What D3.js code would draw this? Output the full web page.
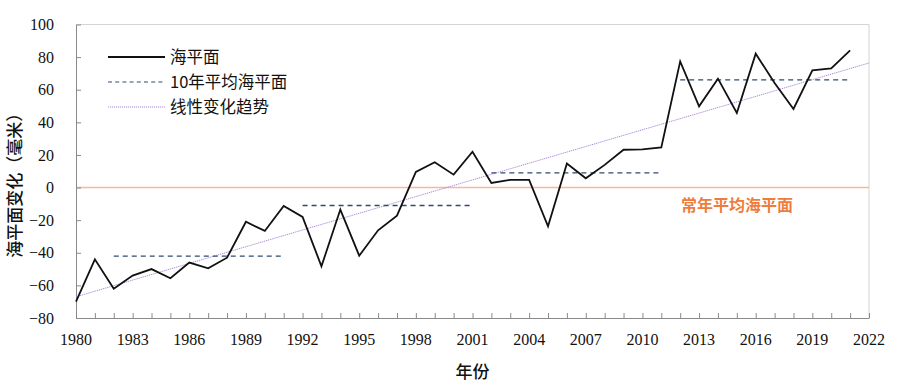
<!DOCTYPE html>
<html>
<head>
<meta charset="utf-8">
<script src="https://cdn.jsdelivr.net/npm/d3@7"></script>
<style>
  body { margin: 0; background: #fff; }
</style>
</head>
<body>
<div id="app"></div>
<script>
// sea level anomaly (mm), 1980-2021
const years = d3.range(1980, 2022);
const seaLevel = [-70, -44, -62, -54, -50, -55.6, -46, -49.5, -43, -21,
  -26.6, -11.3, -18, -48.3, -13.5, -41.8, -26.2, -17.2, 9.6, 15.5,
  7.9, 22, 2.8, 4.7, 4.7, -23.8, 14.7, 5.7, 13.9, 23.2,
  23.4, 24.6, 77.4, 49.8, 66.8, 45.7, 82.1, 64.1, 48.2, 71.9,
  73.1, 84.1];
// decade averages
const decadeStart = [1982, 1992, 2002, 2012];
const decadeEnd = [1991, 2001, 2011, 2021];
const decadeMean = [-42, -11, 9, 66];
// linear trend end points
const trendYears = [1980, 2022];
const trendValues = [-67, 76.4];
const xTicks = d3.range(1980, 2023, 3);
const yTicks = d3.range(-80, 101, 20);

const SERIF = '"Liberation Serif"';
const CJK = '"Noto Sans CJK SC"';

const width = 903, height = 390;
const margin = { top: 24.5, right: 34, bottom: 72, left: 76 };

const svg = d3.select('#app').append('svg')
  .attr('width', width).attr('height', height);

const x = d3.scaleLinear().domain([1980, 2022]).range([margin.left, width - margin.right]);
const y = d3.scaleLinear().domain([-80, 100]).range([height - margin.bottom, margin.top]);

// frame top / right
svg.append('path')
  .attr('d', `M${x(1980)},${y(100)}H${x(2022)}V${y(-80)}`)
  .attr('fill', 'none').attr('stroke', '#d4d4d4').attr('stroke-width', 1);

// zero line
svg.append('line')
  .attr('x1', x(1980)).attr('x2', x(2022))
  .attr('y1', y(0)).attr('y2', y(0))
  .attr('stroke', '#f5b89c').attr('stroke-width', 1.5);

// axes
const gx = svg.append('g')
  .attr('transform', `translate(0,${y(-80)})`)
  .call(d3.axisBottom(x).tickValues(d3.range(1980, 2023)).tickSizeInner(-5).tickSizeOuter(0).tickFormat(''));
gx.select('.domain').attr('stroke', '#8a8a8a');
gx.selectAll('.tick line').attr('stroke', '#8a8a8a');

svg.append('g').selectAll('text').data(xTicks).join('text')
  .attr('x', d => x(d)).attr('y', y(-80) + 27)
  .attr('text-anchor', 'middle')
  .style('font-family', SERIF).style('font-size', '16px')
  .attr('fill', '#111')
  .text(d => d);

const gy = svg.append('g')
  .attr('transform', `translate(${x(1980)},0)`)
  .call(d3.axisLeft(y).tickValues(yTicks).tickSizeInner(-5).tickSizeOuter(0).tickPadding(22));
gy.select('.domain').attr('stroke', '#8a8a8a');
gy.selectAll('.tick line').attr('stroke', '#8a8a8a');
gy.selectAll('.tick text')
  .style('font-family', SERIF).style('font-size', '16px').attr('fill', '#111');

// trend line
svg.append('line')
  .attr('x1', x(trendYears[0])).attr('y1', y(trendValues[0]))
  .attr('x2', x(trendYears[1])).attr('y2', y(trendValues[1]))
  .attr('stroke', '#a98bd6').attr('stroke-width', 1).attr('stroke-dasharray', '1.2 0.8');

// decade means
svg.append('g').selectAll('line').data(decadeMean).join('line')
  .attr('x1', (d, i) => x(decadeStart[i])).attr('x2', (d, i) => x(decadeEnd[i]))
  .attr('y1', d => y(d)).attr('y2', d => y(d))
  .attr('stroke', '#2d4a70').attr('stroke-width', 1.3).attr('stroke-dasharray', '5 4');

// sea level line
const line = d3.line().x((d, i) => x(years[i])).y(d => y(d));
svg.append('path').datum(seaLevel)
  .attr('d', line).attr('fill', 'none')
  .attr('stroke', '#111').attr('stroke-width', 1.8).attr('stroke-linejoin', 'miter');

// legend
const legend = [
  { label: '海平面', stroke: '#111', width: 1.8, dash: null },
  { label: '10年平均海平面', stroke: '#2d4a70', width: 1.2, dash: '4 3.2' },
  { label: '线性变化趋势', stroke: '#a98bd6', width: 1, dash: '1.2 0.8' }
];
const lg = svg.append('g').selectAll('g').data(legend).join('g')
  .attr('transform', (d, i) => `translate(108,${57 + i * 25})`);
lg.append('line').attr('x1', 0).attr('x2', 57)
  .attr('stroke', d => d.stroke).attr('stroke-width', d => d.width)
  .attr('stroke-dasharray', d => d.dash);
lg.append('text').attr('x', 62).attr('dy', '0.35em')
  .style('font-family', CJK).style('font-size', '16.5px').attr('fill', '#111')
  .text(d => d.label);

// zero line label
svg.append('text')
  .attr('x', 737).attr('y', y(0) + 23)
  .attr('text-anchor', 'middle')
  .style('font-family', CJK).style('font-size', '16px')
  .attr('font-weight', 'bold')
  .attr('fill', '#ee7d3d').text('常年平均海平面');

// axis titles
svg.append('text')
  .attr('transform', `translate(15,${(y(100) + y(-80)) / 2 + 10}) rotate(-90)`)
  .attr('text-anchor', 'middle').attr('dy', '0.35em')
  .style('font-family', CJK).style('font-size', '17px')
  .attr('font-weight', 500).attr('fill', '#111')
  .text('海平面变化（毫米）');

svg.append('text')
  .attr('x', (x(1980) + x(2022)) / 2).attr('y', 378)
  .attr('text-anchor', 'middle')
  .style('font-family', CJK).style('font-size', '17px')
  .attr('font-weight', 500).attr('fill', '#111')
  .text('年份');
</script>
</body>
</html>
